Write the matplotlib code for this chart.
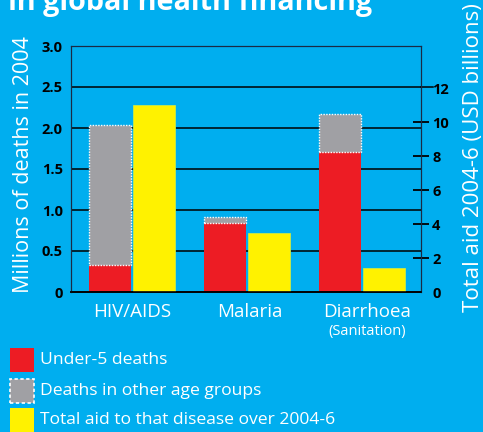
import matplotlib
matplotlib.use("Agg")
import matplotlib.pyplot as plt
from matplotlib.patches import Rectangle

diseases = ["HIV/AIDS", "Malaria", "Diarrhoea"]
under5_deaths = [0.33, 0.845, 1.71]
other_deaths = [1.71, 0.065, 0.455]
total_aid = [11.0, 3.45, 1.4]

legend_labels = ["Under-5 deaths", "Deaths in other age groups",
                 "Total aid to that disease over 2004-6"]

BG = "#00AEEF"
RED = "#ED1C24"
GREY = "#A0A0A4"
YELLOW = "#FFF200"

plt.rcParams["font.family"] = ["Open Sans", "DejaVu Sans"]

W, H = 483, 432
fig = plt.figure(figsize=(W / 100, H / 100), dpi=100, facecolor=BG)


def fx(px):
    return px / W


def fy(py):
    return 1 - py / H


ax = fig.add_axes([fx(71), fy(292), fx(421) - fx(71), fy(46) - fy(292)])
ax.set_facecolor(BG)
ax2 = ax.twinx()

x = list(range(len(diseases)))
off = 0.19
bw = 0.37
xl = [i - off for i in x]
xr = [i + off for i in x]

ax.bar(xl, under5_deaths, width=bw, color=RED, zorder=2)
ax.bar(xl, other_deaths, width=bw, bottom=under5_deaths, color=GREY,
       edgecolor="white", linestyle=(0, (1, 1)), linewidth=1, zorder=2)
ax2.bar(xr, total_aid, width=bw, color=YELLOW, edgecolor="#c8e84a",
        linewidth=0.6, zorder=2)

ax.set_xlim(-0.53, 2.513)
ax.set_ylim(0, 3.0)
ax2.set_ylim(0, 3.0 * 82 / 17)

ax.set_yticks([0, 0.5, 1.0, 1.5, 2.0, 2.5, 3.0])
ax.set_yticklabels(["0", "0.5", "1.0", "1.5", "2.0", "2.5", "3.0"],
                   fontweight="bold", fontsize=10.5)
ax.tick_params(axis="y", length=0, pad=6, colors="black")
for v in [0.5, 1.0, 1.5, 2.0, 2.5]:
    ax.axhline(v, color="black", lw=1.1, zorder=1)
# top gridline spills past the right spine and stands in for the 12 tick
ax.plot([1.0, 1.035], [2.5, 2.5], color="black", lw=1.1, clip_on=False,
        transform=ax.get_yaxis_transform())

ax.set_xticks(x)
ax.set_xticklabels([])
ax.tick_params(axis="x", length=0)

ax2.set_yticks([0, 2, 4, 6, 8, 10, 12])
ax2.set_yticklabels(["0", "2", "4", "6", "8", "10", "12"],
                    fontweight="bold", fontsize=10.5)
ax2.tick_params(axis="y", direction="inout", length=12, width=1.3,
                colors="black", pad=2)
for t in (ax2.yaxis.get_major_ticks()[0], ax2.yaxis.get_major_ticks()[-1]):
    t.tick2line.set_visible(False)

for a in (ax, ax2):
    for s in ("left", "top", "right"):
        a.spines[s].set_color("#1a2a44")
        a.spines[s].set_linewidth(0.8)
    a.spines["bottom"].set_color("black")
    a.spines["bottom"].set_linewidth(1.2)

label_x = [131.7, 250, 366.7]
for lx, name in zip(label_x, diseases):
    fig.text(fx(lx), fy(312), name, color="white", fontsize=13.5,
             ha="center", va="center")
fig.text(fx(366.7), fy(332), "(Sanitation)", color="white", fontsize=10.5,
         ha="center", va="center")

fig.text(fx(24), fy(165), "Millions of deaths in 2004", color="white",
         fontsize=15.5, rotation=90, ha="center", va="center")
fig.text(fx(473), fy(158), "Total aid 2004-6 (USD billions)", color="white",
         fontsize=16, rotation=90, ha="center", va="center")

fig.text(fx(8), fy(10), "in global health financing", color="white",
         fontsize=20.7, fontweight="bold", ha="left", va="baseline")

# legend
sw = 24
rows = [(348, RED, None), (379, GREY, "white"), (408, YELLOW, None)]
for (top, col, ec), lab in zip(rows, legend_labels):
    if ec:
        r = Rectangle((fx(10), fy(top + sw)), fx(sw), fy(0) - fy(sw),
                      transform=fig.transFigure, facecolor=col,
                      edgecolor=ec, linestyle=(0, (2, 1.5)), linewidth=1.2)
    else:
        r = Rectangle((fx(10), fy(top + sw)), fx(sw), fy(0) - fy(sw),
                      transform=fig.transFigure, facecolor=col,
                      edgecolor="none")
    fig.add_artist(r)
    fig.text(fx(40), fy(top + sw / 2), lab, color="white", fontsize=12.6,
             ha="left", va="center")

fig.savefig("out.png", dpi=100, facecolor=BG)
